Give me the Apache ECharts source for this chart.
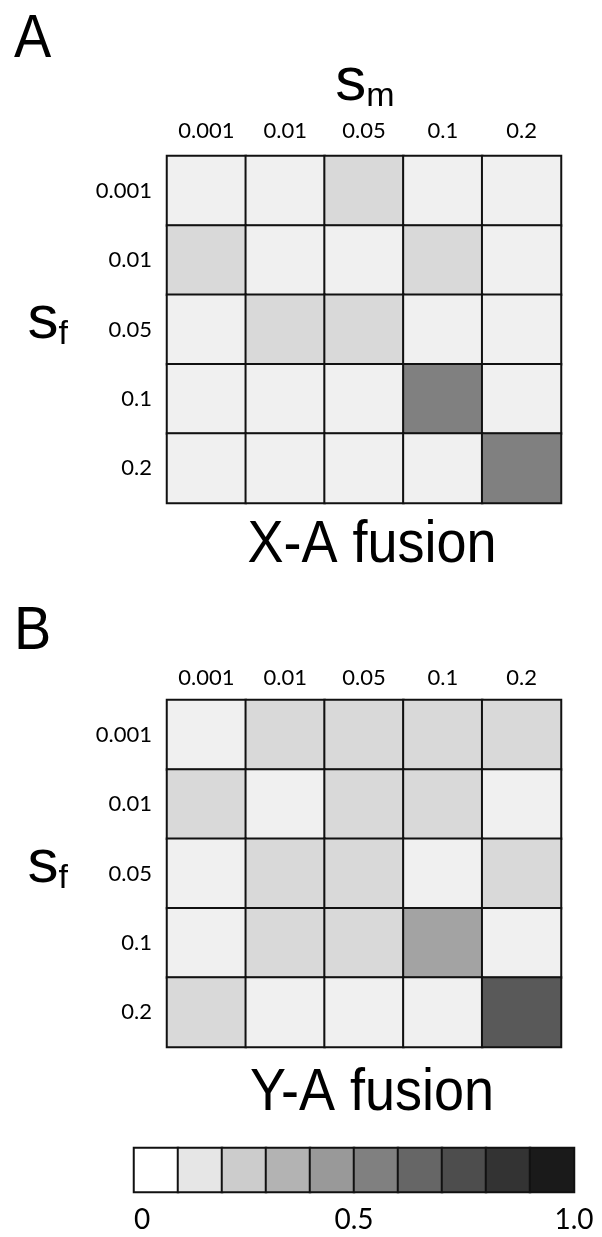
<!DOCTYPE html>
<html><head><meta charset="utf-8">
<script src="https://cdn.jsdelivr.net/npm/echarts@6/dist/echarts.min.js"></script>
<style>html,body{margin:0;padding:0;background:#fff}#c{width:602px;height:1237px}</style>
</head><body><div id="c"></div>
<script>
// ---- data ----
const smLabels = ['0.001', '0.01', '0.05', '0.1', '0.2'];
const sfLabels = ['0.001', '0.01', '0.05', '0.1', '0.2'];
// rows = s_f (top to bottom), columns = s_m (left to right)
const fusionXA = [
  [0.06, 0.06, 0.15, 0.06, 0.06],
  [0.15, 0.06, 0.06, 0.15, 0.06],
  [0.06, 0.15, 0.15, 0.06, 0.06],
  [0.06, 0.06, 0.06, 0.50, 0.06],
  [0.06, 0.06, 0.06, 0.06, 0.50]
];
const fusionYA = [
  [0.06, 0.15, 0.15, 0.15, 0.15],
  [0.15, 0.06, 0.15, 0.15, 0.06],
  [0.06, 0.15, 0.15, 0.06, 0.15],
  [0.06, 0.15, 0.15, 0.36, 0.06],
  [0.15, 0.06, 0.06, 0.06, 0.65]
];
const scaleBins = [0, 0.1, 0.2, 0.3, 0.4, 0.5, 0.6, 0.7, 0.8, 0.9];
const scaleTicks = [0, 0.5, 1.0];
const scaleTickLabels = ['0', '0.5', '1.0'];

// ---- build ----
function toCells(m) {
  const out = [];
  m.forEach((row, r) => row.forEach((v, c) => out.push([c, r, v])));
  return out;
}
const TICK_FONT = 'Lato';
const BIG_FONT = 'Liberation Sans';
const tickLabel = { color: '#000', fontFamily: TICK_FONT, fontSize: 22 };
const hidden = { show: false };
const symRich = (sub) => ({
  s: { fontFamily: BIG_FONT, fontSize: 62, color: '#000', verticalAlign: 'bottom', lineHeight: 58 },
  [sub]: { fontFamily: BIG_FONT, fontSize: 34, color: '#000', verticalAlign: 'bottom', lineHeight: 44 }
});
const sfName = {
  name: '{s|s}{f|f}', nameLocation: 'middle', nameRotate: 0, nameGap: 99,
  nameTextStyle: { padding: [0, 0, 14, 0], rich: symRich('f') }
};

const chart = echarts.init(document.getElementById('c'), null, { renderer: 'canvas' });
chart.setOption({
  backgroundColor: '#fff',
  animation: false,
  grid: [
    { left: 167, top: 156, width: 394, height: 347, outerBoundsMode: 'none' },
    { left: 167, top: 700, width: 394, height: 347, outerBoundsMode: 'none' },
    { left: 134, top: 1148, width: 440, height: 44, outerBoundsMode: 'none' }
  ],
  xAxis: [
    { type: 'category', gridIndex: 0, position: 'top', data: smLabels,
      axisLine: hidden, axisTick: hidden, splitLine: hidden,
      axisLabel: Object.assign({ margin: 14 }, tickLabel),
      name: '{s|s}{m|m}', nameLocation: 'middle', nameGap: 42,
      nameTextStyle: { padding: [0, 0, 0, 2], rich: symRich('m') } },
    { type: 'category', gridIndex: 1, position: 'top', data: smLabels,
      axisLine: hidden, axisTick: hidden, splitLine: hidden,
      axisLabel: Object.assign({ margin: 11 }, tickLabel) },
    { type: 'category', gridIndex: 2, data: scaleBins.map(String),
      axisLine: hidden, axisTick: hidden, axisLabel: hidden, splitLine: hidden },
    { type: 'value', gridIndex: 2, position: 'bottom', min: 0, max: 1, interval: 0.5,
      axisLine: hidden, axisTick: hidden, splitLine: hidden,
      axisLabel: { margin: 14, color: '#000', fontFamily: TICK_FONT, fontSize: 28,
        alignMinLabel: 'left',
        formatter: v => scaleTickLabels[scaleTicks.indexOf(v)] } }
  ],
  yAxis: [
    Object.assign({ type: 'category', gridIndex: 0, inverse: true, data: sfLabels,
      axisLine: hidden, axisTick: hidden, splitLine: hidden,
      axisLabel: Object.assign({ margin: 15 }, tickLabel) }, sfName),
    Object.assign({ type: 'category', gridIndex: 1, inverse: true, data: sfLabels,
      axisLine: hidden, axisTick: hidden, splitLine: hidden,
      axisLabel: Object.assign({ margin: 15 }, tickLabel) }, sfName),
    { type: 'category', gridIndex: 2, data: [''],
      axisLine: hidden, axisTick: hidden, axisLabel: hidden, splitLine: hidden }
  ],
  visualMap: {
    type: 'continuous', show: false, min: 0, max: 1, seriesIndex: [0, 1, 2],
    inRange: { color: ['#ffffff', '#000000'] }
  },
  series: [
    { type: 'heatmap', xAxisIndex: 0, yAxisIndex: 0, data: toCells(fusionXA),
      itemStyle: { borderColor: '#111', borderWidth: 2 } },
    { type: 'heatmap', xAxisIndex: 1, yAxisIndex: 1, data: toCells(fusionYA),
      itemStyle: { borderColor: '#111', borderWidth: 2 } },
    { type: 'heatmap', xAxisIndex: 2, yAxisIndex: 2, data: scaleBins.map((v, i) => [i, 0, v]),
      itemStyle: { borderColor: '#111', borderWidth: 2 } }
  ],
  graphic: [
    { type: 'text', x: 14, y: 40, scaleX: 0.9, style: { text: 'A', font: '62px "Liberation Sans"', fill: '#000', align: 'left', verticalAlign: 'middle' } },
    { type: 'text', x: 14, y: 632, scaleX: 0.9, style: { text: 'B', font: '62px "Liberation Sans"', fill: '#000', align: 'left', verticalAlign: 'middle' } },
    { type: 'text', x: 372, y: 545, scaleX: 0.9, style: { text: 'X-A fusion', font: '60px "Liberation Sans"', fill: '#000', align: 'center', verticalAlign: 'middle' } },
    { type: 'text', x: 372, y: 1093, scaleX: 0.9, style: { text: 'Y-A fusion', font: '60px "Liberation Sans"', fill: '#000', align: 'center', verticalAlign: 'middle' } }
  ]
});
</script></body></html>
